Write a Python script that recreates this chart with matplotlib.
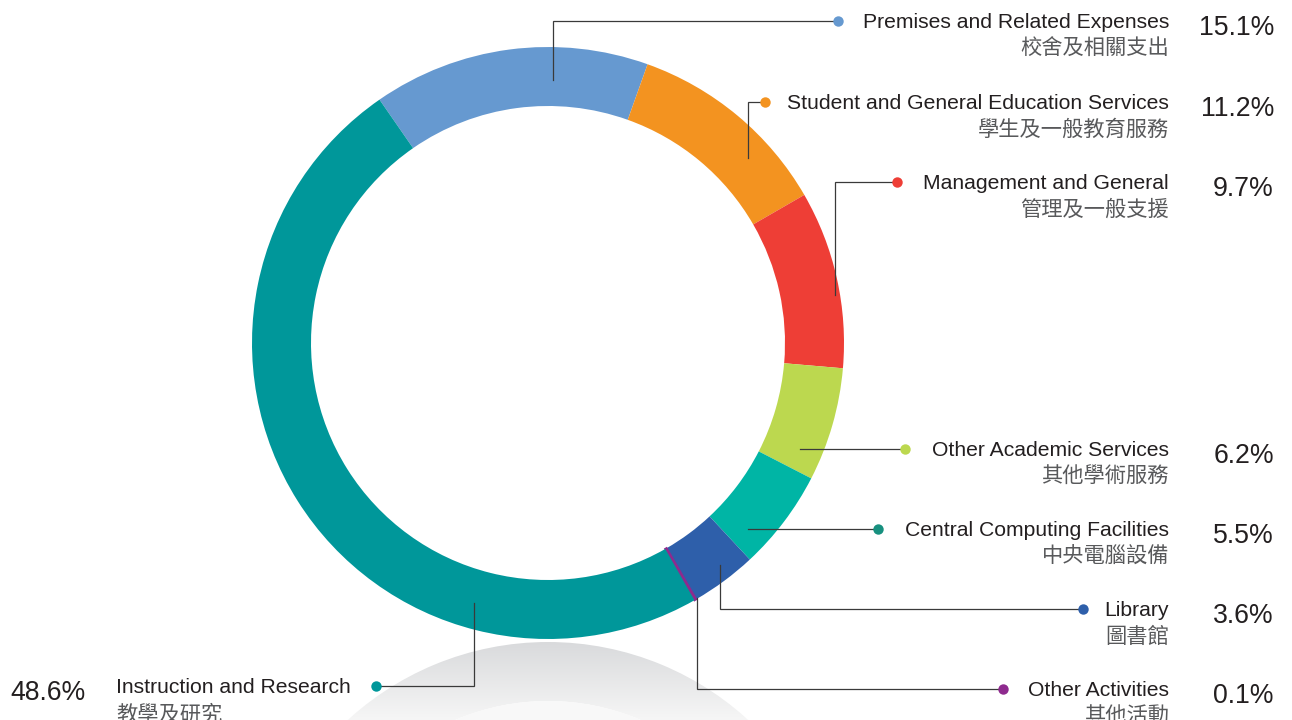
import numpy as np
import matplotlib.pyplot as plt
from matplotlib.patches import Wedge, Circle

# =====================================================
# DATA
# =====================================================

labels_en = [
    "Premises and Related Expenses",
    "Student and General Education Services",
    "Management and General",
    "Other Academic Services",
    "Central Computing Facilities",
    "Library",
    "Other Activities",
    "Instruction and Research",
]

labels_zh = [
    "校舍及相關支出",
    "學生及一般教育服務",
    "管理及一般支援",
    "其他學術服務",
    "中央電腦設備",
    "圖書館",
    "其他活動",
    "教學及研究",
]

shares = [15.1, 11.2, 9.7, 6.2, 5.5, 3.6, 0.1, 48.6]

slice_colors = ["#6699D0", "#F39320", "#EE3E36", "#BCD84F",
                "#00B5A5", "#2E5FAA", "#8E2A8E", "#00979A"]
dot_colors = ["#6699D0", "#F39320", "#EE3E36", "#BCD84F",
              "#17907F", "#2E5FAA", "#8E2A8E", "#00979A"]

# =====================================================
# LAYOUT (pixel coords, y measured from top)
# =====================================================

W, H = 1292, 720
CX, CY = 548, 343
R_OUT, R_W = 296, 59

label_y = [21, 102, 182, 449, 529, 609, 689, 686]
anchor_x = [553, 748, 835, 800, 748, 720, 697, 474]
anchor_y = [80, 158, 295, 449, 529, 565, 598, 603]
dot_x = [838, 765, 897, 905, 878, 1083, 1003, 376]

TEXT_RIGHT = 1169
PCT_RIGHT = 1274

FONT = ["Liberation Sans", "Noto Sans CJK TC", "DejaVu Sans"]
FONT_ZH = ["Noto Sans CJK TC", "DejaVu Sans"]


def fy(y):
    return H - y


fig = plt.figure(figsize=(W / 100, H / 100), dpi=100)
ax = fig.add_axes([0, 0, 1, 1])
ax.set_xlim(0, W)
ax.set_ylim(0, H)
ax.set_aspect("equal")
ax.axis("off")

# =====================================================
# REFLECTION (grey gradient ring under the donut)
# =====================================================

ref_cy = fy(CY + 2 * R_OUT + 3)
grad = np.linspace(0, 1, 200).reshape(-1, 1)
cmap = plt.matplotlib.colors.LinearSegmentedColormap.from_list(
    "refl", ["#D9DADC", "#F6F6F6"])
ring = Wedge((CX, ref_cy), R_OUT, 0, 360, width=R_W,
             facecolor="none", edgecolor="none")
ax.add_patch(ring)
img = ax.imshow(grad, cmap=cmap,
                extent=(CX - R_OUT, CX + R_OUT, 0, ref_cy + R_OUT),
                origin="upper", aspect="auto", zorder=0)
img.set_clip_path(ring)
ax.add_patch(Circle((CX, ref_cy), R_OUT - R_W, facecolor="#F8F8F8",
                    edgecolor="none", zorder=0))

# =====================================================
# DONUT
# =====================================================

wedges, _ = ax.pie(
    shares,
    colors=slice_colors,
    center=(CX, fy(CY)),
    radius=R_OUT,
    startangle=124.7,
    counterclock=False,
    wedgeprops=dict(width=R_W, linewidth=0),
    frame=True,
)
# the 0.1% slice is barely visible; give it a thin outline like the original
wedges[6].set_edgecolor(slice_colors[6])
wedges[6].set_linewidth(1.5)

ax.set_xlim(0, W)
ax.set_ylim(0, H)
ax.axis("off")

# =====================================================
# LEADERS AND LABELS
# =====================================================

for i in range(len(shares)):
    ly = label_y[i]
    xs = [anchor_x[i], anchor_x[i], dot_x[i]]
    ys = [fy(anchor_y[i]), fy(ly), fy(ly)]
    ax.plot(xs, ys, color="#3A3A3A", lw=0.9, zorder=3,
            solid_joinstyle="miter")
    ax.plot(dot_x[i], fy(ly), "o", ms=7.5, color=dot_colors[i],
            mec="none", zorder=4)

    if i < 7:
        x_txt, x_pct, ha = TEXT_RIGHT, PCT_RIGHT, "right"
    else:
        x_txt, x_pct, ha = 116, 10, "left"

    ax.text(x_txt, fy(ly + 7), labels_en[i], ha=ha, va="baseline",
            fontsize=15.2, color="#231F20", family=FONT)
    ax.text(x_txt, fy(ly + 28), labels_zh[i], ha=ha, va="center",
            fontsize=15.3, color="#58595B", family=FONT_ZH)
    ax.text(x_pct, fy(ly + 14), f"{shares[i]:.1f}%", ha=ha,
            va="baseline", fontsize=19.2, color="#231F20", family=FONT)

fig.savefig("out.png", dpi=100)
